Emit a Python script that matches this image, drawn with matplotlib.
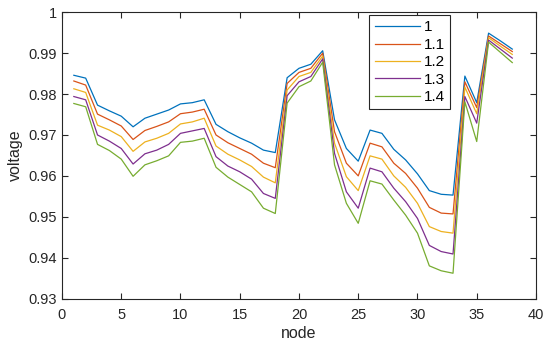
import matplotlib
matplotlib.use('Agg')
import matplotlib.pyplot as plt

plt.rcParams['font.family'] = ['Liberation Sans', 'DejaVu Sans']

# node numbers and voltage for each load factor
nodes = list(range(1, 39))
labels = ['1', '1.1', '1.2', '1.3', '1.4']

v_10 = [0.9846, 0.9839, 0.9773, 0.9759, 0.9746, 0.9720, 0.9741, 0.9751, 0.9761, 0.9776,
        0.9779, 0.9786, 0.9726, 0.9708, 0.9693, 0.9680, 0.9663, 0.9657, 0.9840, 0.9863,
        0.9873, 0.9906, 0.9737, 0.9667, 0.9636, 0.9712, 0.9704, 0.9665, 0.9639, 0.9605,
        0.9564, 0.9555, 0.9553, 0.9844, 0.9779, 0.9949, 0.9930, 0.9910]
v_11 = [0.9832, 0.9822, 0.9751, 0.9737, 0.9722, 0.9689, 0.9711, 0.9721, 0.9732, 0.9752,
        0.9756, 0.9763, 0.9700, 0.9681, 0.9667, 0.9653, 0.9631, 0.9620, 0.9826, 0.9853,
        0.9863, 0.9900, 0.9708, 0.9631, 0.9600, 0.9680, 0.9671, 0.9631, 0.9606, 0.9570,
        0.9523, 0.9509, 0.9507, 0.9830, 0.9767, 0.9942, 0.9923, 0.9904]
v_12 = [0.9813, 0.9804, 0.9724, 0.9712, 0.9696, 0.9660, 0.9683, 0.9692, 0.9704, 0.9727,
        0.9732, 0.9741, 0.9673, 0.9653, 0.9639, 0.9623, 0.9597, 0.9583, 0.9810, 0.9843,
        0.9853, 0.9893, 0.9680, 0.9598, 0.9564, 0.9649, 0.9641, 0.9600, 0.9572, 0.9533,
        0.9476, 0.9464, 0.9460, 0.9817, 0.9752, 0.9938, 0.9917, 0.9897]
v_13 = [0.9794, 0.9786, 0.9700, 0.9685, 0.9667, 0.9629, 0.9654, 0.9663, 0.9677, 0.9704,
        0.9710, 0.9716, 0.9647, 0.9624, 0.9610, 0.9592, 0.9557, 0.9545, 0.9796, 0.9830,
        0.9843, 0.9886, 0.9655, 0.9561, 0.9521, 0.9619, 0.9610, 0.9570, 0.9537, 0.9496,
        0.9430, 0.9415, 0.9409, 0.9794, 0.9729, 0.9932, 0.9910, 0.9888]
v_14 = [0.9777, 0.9769, 0.9677, 0.9662, 0.9641, 0.9599, 0.9627, 0.9637, 0.9649, 0.9682,
        0.9685, 0.9692, 0.9621, 0.9597, 0.9579, 0.9561, 0.9521, 0.9508, 0.9778, 0.9818,
        0.9832, 0.9878, 0.9627, 0.9533, 0.9484, 0.9588, 0.9580, 0.9541, 0.9504, 0.9460,
        0.9380, 0.9368, 0.9362, 0.9781, 0.9684, 0.9927, 0.9902, 0.9877]

colors = ['#0072BD', '#D95319', '#EDB120', '#7E2F8E', '#77AC30']

fig = plt.figure(figsize=(5.5, 3.48), dpi=100)
ax = fig.add_axes([0.1127, 0.142, 0.8618, 0.8227])

for vals, lab, c in zip([v_10, v_11, v_12, v_13, v_14], labels, colors):
    ax.plot(nodes, vals, color=c, lw=0.9, label=lab)

ax.set_xlim(0, 40)
ax.set_ylim(0.93, 1.0)
ax.set_xticks(range(0, 41, 5))
ax.set_yticks([0.93, 0.94, 0.95, 0.96, 0.97, 0.98, 0.99, 1.0])
ax.set_yticklabels(['0.93', '0.94', '0.95', '0.96', '0.97', '0.98', '0.99', '1'])
ax.tick_params(direction='in', top=True, right=True, length=4, width=0.8,
               labelsize=10.5, colors='#262626')
ax.tick_params(axis='x', pad=7)
for s in ax.spines.values():
    s.set_linewidth(0.8)
    s.set_color('#262626')

ax.set_xlabel('node', fontsize=11.5, color='#262626', labelpad=3)
ax.set_ylabel('voltage', fontsize=11.5, color='#262626', labelpad=4)

leg = ax.legend(loc='upper right', bbox_to_anchor=(0.8186, 0.99), borderaxespad=0,
                fontsize=11, handlelength=3.0, handletextpad=0.2,
                fancybox=False, edgecolor='#262626',
                framealpha=1, borderpad=0.35, labelspacing=0.22)
leg.get_frame().set_linewidth(0.8)

fig.savefig('out.png', dpi=100)
